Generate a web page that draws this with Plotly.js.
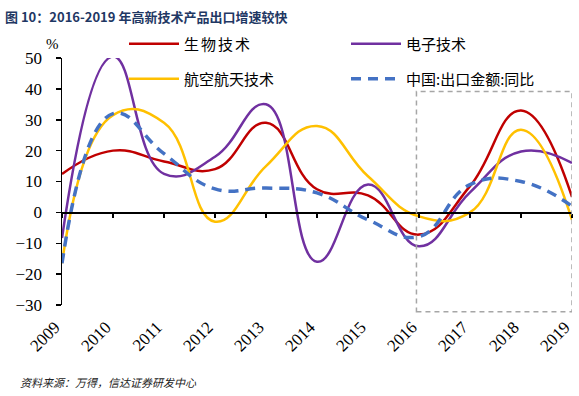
<!DOCTYPE html>
<html><head><meta charset="utf-8">
<script src="https://cdn.plot.ly/plotly-3.0.1.min.js"></script>
<style>body{margin:0;background:#fff;} .legendtext{letter-spacing:2px;}</style>
</head><body><div id="chart" style="width:579px;height:396px;"></div>
<script>
const years = [2009,2010,2011,2012,2013,2014,2015,2016,2017,2018,2019];
const yearLabels = ['2009','2010','2011','2012','2013','2014','2015','2016','2017','2018','2019'];
const bio   = [12.4,20,16.5,14,29,7.5,5.5,-7.2,8.5,33,5];
const elec  = [-8.3,50.5,12.5,18,35,-16,9,-11,6.5,19.7,16];
const aero  = [-16.5,31.5,29,-3,15,28,11.7,-1.3,0,26.8,-2.4];
const china = [-16.5,32,19,7.6,7.9,6.3,-2.4,-7.8,9,10,2];
const names = ['生物技术','电子技术','航空航天技术','中国:出口金额:同比'];

const serif = 'Liberation Serif, Times New Roman, serif';
const cjk = 'Noto Sans CJK SC, sans-serif';

function tr(y, name, color, width, dash, legend){
  return {x: years, y: y, name: name, type:'scatter', mode:'lines',
    line:{color:color, width:width, dash:dash, shape:'spline', smoothing:1.3},
    legend: legend, hoverinfo:'skip', cliponaxis:true};
}
const data = [
  tr(bio, names[0], '#C00000', 2.5, 'solid', 'legend'),
  tr(elec, names[1], '#7030A0', 2.5, 'solid', 'legend2'),
  tr(aero, names[2], '#FFC000', 2.5, 'solid', 'legend3'),
  tr(china, names[3], '#4472C4', 3.5, '10px,7px', 'legend4'),
  {x:[], y:[], xaxis:'x2', yaxis:'y', showlegend:false, type:'scatter', mode:'lines'}
];

function leg(px, py){
  return {orientation:'v', bgcolor:'rgba(0,0,0,0)', borderwidth:0,
    font:{family:cjk, size:15, color:'#000'}, itemwidth:50,
    xref:'container', yref:'container', xanchor:'left', yanchor:'middle',
    x:px/579, y:1-py/396};
}

const layout = {
  width:579, height:396,
  margin:{l:62, r:7, t:58, b:91, autoexpand:false},
  paper_bgcolor:'#fff', plot_bgcolor:'rgba(0,0,0,0)',
  title:{text:'图 10：2016-2019 年高新技术产品出口增速较快', font:{family:cjk, size:13, color:'#1F3864', weight:'bold'},
    xref:'container', yref:'container', x:5/579, y:1-17/396, xanchor:'left', yanchor:'middle'},
  showlegend:true,
  legend: leg(124, 44),
  legend2: leg(346, 44),
  legend3: leg(124, 79),
  legend4: leg(346, 79),
  xaxis:{range:[2009,2019], tickvals:years, ticktext:yearLabels, tickangle:-45, showline:false, ticks:'',
    showgrid:false, zeroline:false, tickfont:{family:serif, size:17, color:'#000'},
    ticklabeloverflow:'allow', ticklabelshift:-7, ticklabelstandoff:8},
  xaxis2:{overlaying:'x', anchor:'free', position:0.375, range:[2009,2019], tickvals:years,
    ticks:'outside', ticklen:4, tickwidth:1.5, tickcolor:'#000', showticklabels:false, showline:true,
    linecolor:'#000', linewidth:1.5, showgrid:false, zeroline:false},
  yaxis:{range:[-30,50], dtick:10, tick0:0, showgrid:false, zeroline:false, showline:true, linecolor:'#000',
    linewidth:1.5, ticks:'outside', ticklen:5, tickwidth:1.5, tickcolor:'#000',
    tickfont:{family:serif, size:17, color:'#000'}, ticklabelstandoff:10},
  shapes:[{type:'rect', xref:'x', yref:'paper', x0:2015.95, x1:2019, y0:-0.027, y1:0.864,
    line:{color:'#A6A6A6', width:1.5, dash:'5px,4px'}, fillcolor:'rgba(0,0,0,0)', layer:'above'}],
  annotations:[
    {text:'%', xref:'paper', yref:'paper', x:-0.018, y:1.057, showarrow:false, xanchor:'center', yanchor:'middle',
      font:{family:serif, size:15, color:'#000'}},
    {text:'<i>资料来源：万得，信达证券研发中心</i>', xref:'paper', yref:'paper', x:-0.086, y:-0.312, showarrow:false,
      xanchor:'left', yanchor:'middle', font:{family:cjk, size:11, color:'#222'}}
  ]
};
Plotly.newPlot('chart', data, layout, {displayModeBar:false, staticPlot:true});
</script></body></html>
